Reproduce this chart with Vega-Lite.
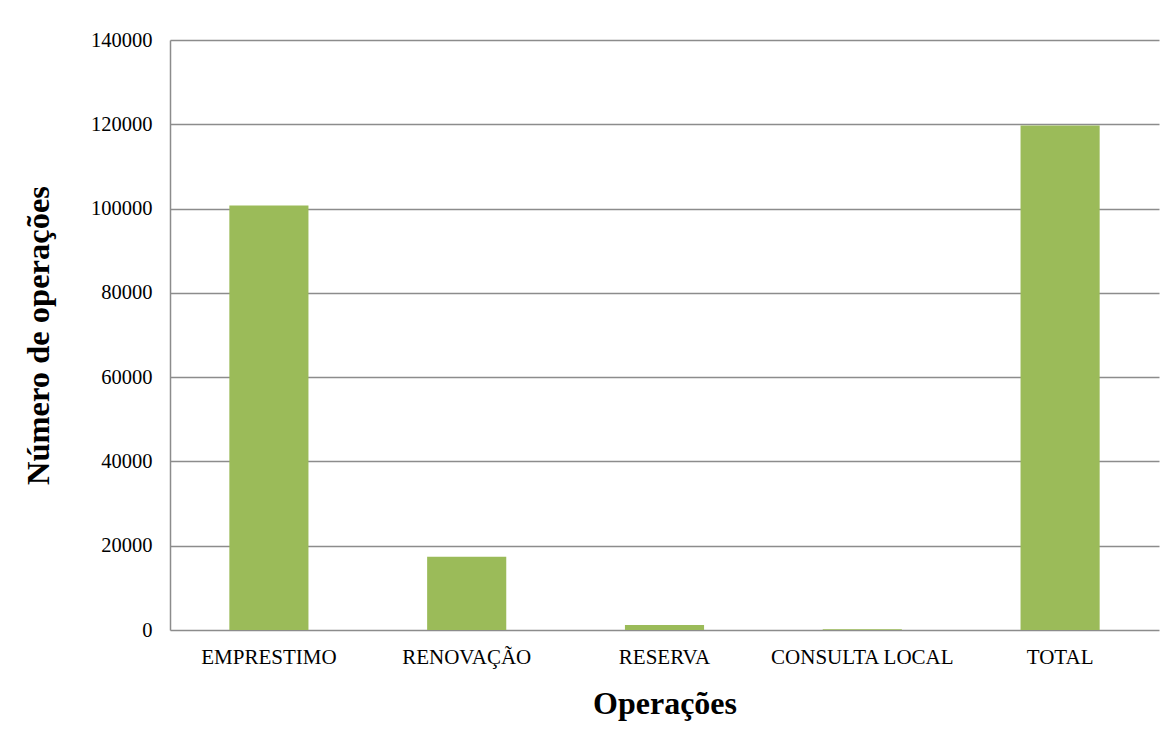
{
  "$schema": "https://vega.github.io/schema/vega-lite/v6.json",
  "autosize": {"type": "none"},
  "padding": {"left": 170, "top": 40, "right": 17, "bottom": 108},
  "width": 989,
  "height": 590,
  "background": "white",
  "config": {
    "view": {"stroke": null},
    "font": "Liberation Serif"
  },
  "data": {
    "values": [
      {"operacao": "EMPRESTIMO", "valor": 100700},
      {"operacao": "RENOVAÇÃO", "valor": 17400},
      {"operacao": "RESERVA", "valor": 1200},
      {"operacao": "CONSULTA LOCAL", "valor": 200},
      {"operacao": "TOTAL", "valor": 119700}
    ]
  },
  "mark": {"type": "bar", "color": "#9BBB59"},
  "encoding": {
    "x": {
      "field": "operacao",
      "type": "nominal",
      "sort": null,
      "scale": {"paddingInner": 0.6, "paddingOuter": 0.3},
      "axis": {
        "title": "Operações",
        "titleFont": "Liberation Serif",
        "titleFontSize": 32,
        "titleFontWeight": "bold",
        "titleColor": "black",
        "titlePadding": 21,
        "labelAngle": 0,
        "labelFont": "Liberation Serif",
        "labelFontSize": 21,
        "labelColor": "black",
        "labelPadding": 16,
        "labelLimit": 400,
        "domain": false,
        "ticks": false
      }
    },
    "y": {
      "field": "valor",
      "type": "quantitative",
      "scale": {"domain": [0, 140000], "nice": false},
      "axis": {
        "title": "Número de operações",
        "titleFont": "Liberation Serif",
        "titleFontSize": 32.5,
        "titleFontWeight": "bold",
        "titleColor": "black",
        "titlePadding": 35,
        "values": [0, 20000, 40000, 60000, 80000, 100000, 120000, 140000],
        "format": "d",
        "labelFont": "Liberation Serif",
        "labelFontSize": 20.5,
        "labelColor": "black",
        "labelPadding": 18,
        "domainColor": "#8c8c8c",
        "domainWidth": 1.5,
        "ticks": false,
        "gridColor": "#8c8c8c",
        "gridWidth": 1.5
      }
    }
  }
}
